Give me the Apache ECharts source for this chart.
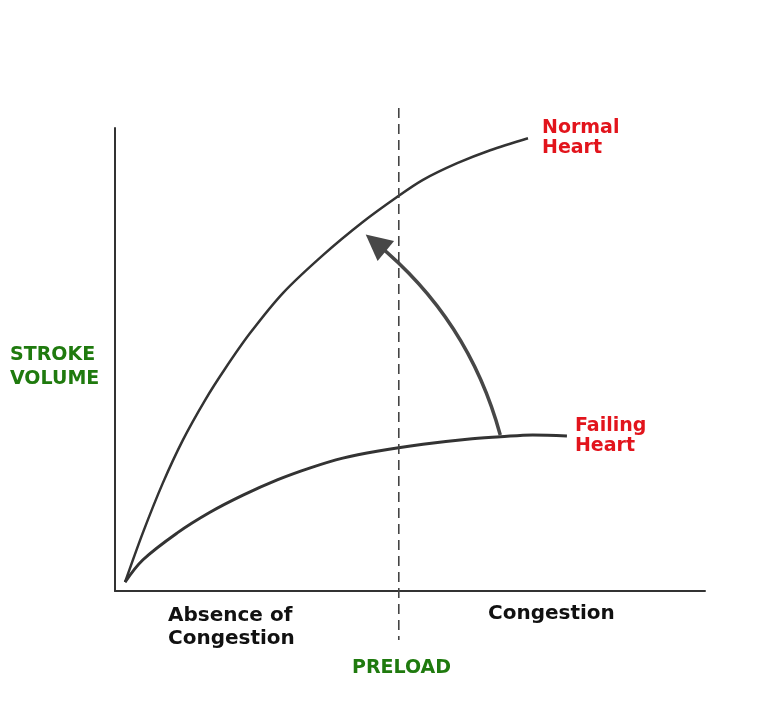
<!DOCTYPE html>
<html>
<head>
<meta charset="utf-8">
<script src="https://cdn.jsdelivr.net/npm/echarts@6/dist/echarts.min.js"></script>
<style>html,body{margin:0;padding:0;background:#fff}#c{width:762px;height:728px}</style>
</head>
<body>
<div id="c"></div>
<script>
// Preload (x) vs stroke volume (y), normalized 0-100 units
const normalHeart = [[1.7,1.9],[4.7,12.5],[8.1,23.3],[11.5,32.6],[15.3,41.3],[18.6,47.9],[22.9,55.7],[28.5,64.4],[35.3,72.6],[42.0,79.7],[47.8,85.1],[52.2,88.8],[58.0,92.4],[63.6,95.2],[70.0,97.8]];
const failingHeart = [[1.7,1.9],[4.7,6.7],[10.5,12.5],[16.1,17.0],[21.7,20.7],[27.5,24.0],[33.1,26.6],[38.6,28.7],[44.4,30.2],[52.2,31.7],[59.7,32.8],[65.3,33.3],[70.8,33.7],[76.6,33.5]];
const dividerX = 48.1;
const dividerSpan = [104.3, -10.6];
const arrowFrom = [65.3, 33.7];
const arrowTo = [44.2, 75.2];
const seriesNames = ['Normal\nHeart', 'Failing\nHeart'];
const regionLabels = ['Absence of\nCongestion', 'Congestion'];
const axisNames = ['PRELOAD', 'STROKE\nVOLUME'];

const RED = '#e2141c', GREEN = '#1f7a0e', INK = '#333';
const FONT = '"DejaVu Sans"';

const chart = echarts.init(document.getElementById('c'), null, {renderer: 'canvas'});
chart.setOption({
  animation: false,
  backgroundColor: '#fff',
  grid: {left: 115, right: 57, top: 128, bottom: 137},
  xAxis: {type: 'value', min: 0, max: 100, axisLine: {show: true, lineStyle: {color: INK, width: 2}},
    axisTick: {show: false}, axisLabel: {show: false}, splitLine: {show: false}},
  yAxis: {type: 'value', min: 0, max: 100, axisLine: {show: true, lineStyle: {color: INK, width: 2}},
    axisTick: {show: false}, axisLabel: {show: false}, splitLine: {show: false}},
  series: [
    {type: 'line', name: 'Normal Heart', data: normalHeart, smooth: 0.3, symbol: 'none',
      lineStyle: {color: INK, width: 2.5},
      endLabel: {show: true, formatter: seriesNames[0], color: RED, fontFamily: FONT, fontWeight: 'bold', fontSize: 19, lineHeight: 20, distance: 14}},
    {type: 'line', name: 'Failing Heart', data: failingHeart, smooth: 0.35, symbol: 'none',
      lineStyle: {color: INK, width: 3},
      endLabel: {show: true, formatter: seriesNames[1], color: RED, fontFamily: FONT, fontWeight: 'bold', fontSize: 19, lineHeight: 20, distance: 8}},
    {type: 'line', data: [[dividerX, dividerSpan[0]], [dividerX, dividerSpan[1]]], clip: false, symbol: 'none',
      lineStyle: {color: '#444', width: 1.6, type: [10, 6]}},
    {type: 'lines', coordinateSystem: 'cartesian2d', clip: false,
      symbol: ['none', 'triangle'], symbolSize: [26, 26],
      lineStyle: {color: '#474747', width: 3.5, curveness: -0.16, opacity: 1},
      data: [{coords: [arrowFrom, arrowTo]}]}
  ],
  graphic: [
    {type: 'text', left: 10, top: 343, style: {text: axisNames[1], fill: GREEN, font: 'bold 19px ' + FONT, lineHeight: 24}},
    {type: 'text', left: 352, top: 659, style: {text: axisNames[0], fill: GREEN, font: 'bold 19px ' + FONT}},
    {type: 'text', left: 168, top: 604, style: {text: regionLabels[0], fill: '#111', font: 'bold 20px ' + FONT, lineHeight: 23}},
    {type: 'text', left: 488, top: 604, style: {text: regionLabels[1], fill: '#111', font: 'bold 20px ' + FONT}}
  ]
});
</script>
</body>
</html>
